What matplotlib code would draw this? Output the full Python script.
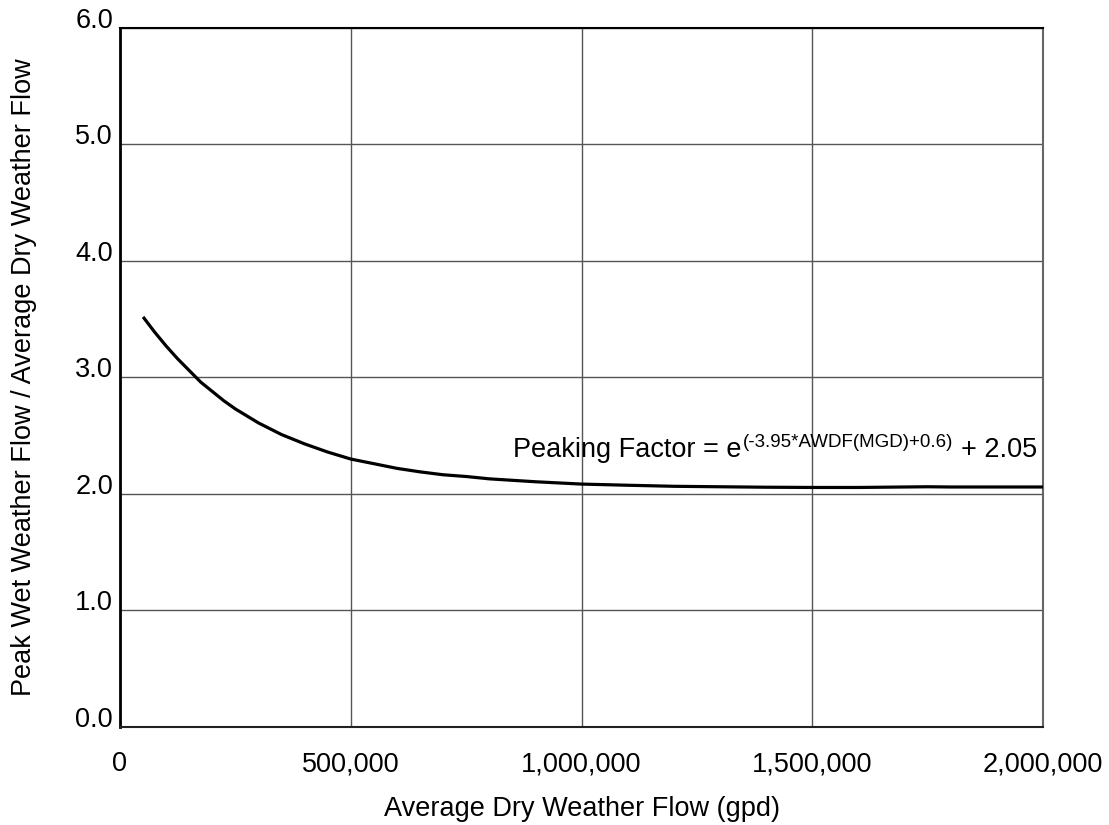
import matplotlib
matplotlib.use("Agg")
import matplotlib.pyplot as plt
from matplotlib.ticker import FuncFormatter

plt.rcParams['font.family'] = ['Liberation Sans', 'DejaVu Sans']

# Data
awdf_gpd = [50000, 75000, 100000, 125000, 150000, 175000, 200000, 225000, 250000,
            275000, 300000, 325000, 350000, 375000, 400000, 450000, 500000, 550000,
            600000, 650000, 700000, 750000, 800000, 900000, 1000000, 1100000,
            1200000, 1300000, 1400000, 1500000, 1600000, 1750000, 1800000, 2000000]
peaking = [3.52, 3.39, 3.27, 3.16, 3.06, 2.96, 2.88, 2.80, 2.73,
           2.67, 2.61, 2.56, 2.51, 2.47, 2.43, 2.36, 2.30, 2.26,
           2.22, 2.19, 2.165, 2.15, 2.13, 2.105, 2.085, 2.075,
           2.066, 2.062, 2.058, 2.056, 2.056, 2.062, 2.06, 2.06]

x_ticks = [0, 500000, 1000000, 1500000, 2000000]
y_ticks = [0, 1, 2, 3, 4, 5, 6]
xlabel = "Average Dry Weather Flow (gpd)"
ylabel = "Peak Wet Weather Flow / Average Dry Weather Flow"
eq_main = "Peaking Factor = e"
eq_sup = "(-3.95*AWDF(MGD)+0.6)"
eq_tail = "+ 2.05"

fig = plt.figure(figsize=(11.09, 8.25), dpi=100)
ax = fig.add_axes([0.1082, 0.1188, 0.8323, 0.8473])

ax.plot(awdf_gpd, peaking, color='black', lw=2.3, solid_capstyle='butt',
        solid_joinstyle='round', zorder=3)

ax.set_xlim(0, 2000000)
ax.set_ylim(0, 6)
ax.set_xticks(x_ticks)
ax.set_yticks(y_ticks)
ax.xaxis.set_major_formatter(FuncFormatter(lambda v, p: f"{int(v):,}"))
ax.yaxis.set_major_formatter(FuncFormatter(lambda v, p: f"{v:.1f}"))
ax.grid(True, color='#555555', lw=1.0)
ax.set_axisbelow(True)
ax.tick_params(axis='both', length=0, labelsize=19.5)
ax.tick_params(axis='x', pad=17.5)
ax.tick_params(axis='y', pad=5)
for lbl in ax.get_yticklabels():
    lbl.set_verticalalignment('baseline')

ax.spines['left'].set_linewidth(2.0)
ax.spines['left'].set_color('black')
ax.spines['bottom'].set_linewidth(1.5)
ax.spines['bottom'].set_color('#222222')
ax.spines['top'].set_linewidth(1.5)
ax.spines['top'].set_color('black')
ax.spines['right'].set_linewidth(1.5)
ax.spines['right'].set_color('#666666')

ax.set_xlabel(xlabel, fontsize=19.5)
ax.xaxis.set_label_coords(0.5, -0.0987)
ax.set_ylabel(ylabel, fontsize=19.5)
ax.yaxis.set_label_coords(-0.090, 0.5)

# Equation built from pieces so the superscript keeps plain spacing
t1 = ax.text(0.426, 0.386, eq_main, transform=ax.transAxes, fontsize=19.5,
             ha='left', va='baseline', color='black')
fig.canvas.draw()
r = fig.canvas.get_renderer()
bb1 = t1.get_window_extent(r)
base_disp = ax.transAxes.transform((0.426, 0.386))
t2 = fig.text(bb1.x1 + 1, base_disp[1] + 10, eq_sup, transform=None, fontsize=13.5,
              ha='left', va='baseline', color='black')
fig.canvas.draw()
bb2 = t2.get_window_extent(r)
t3 = fig.text(bb2.x1 + 8, base_disp[1], eq_tail, transform=None, fontsize=19.5,
              ha='left', va='baseline', color='black')

fig.savefig("out.png", dpi=100)
